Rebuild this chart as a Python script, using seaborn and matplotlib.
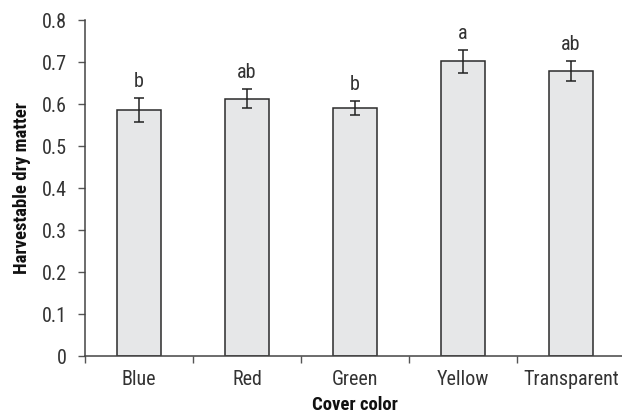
import matplotlib
matplotlib.use("Agg")
import matplotlib.pyplot as plt
import seaborn as sns
import pandas as pd

categories = ["Blue", "Red", "Green", "Yellow", "Transparent"]
means = [0.585, 0.613, 0.591, 0.702, 0.679]
errors = [0.029, 0.022, 0.017, 0.027, 0.024]
letters = ["b", "ab", "b", "a", "ab"]
yticks = [0, 0.1, 0.2, 0.3, 0.4, 0.5, 0.6, 0.7, 0.8]
ytick_labels = ["0", "0.1", "0.2", "0.3", "0.4", "0.5", "0.6", "0.7", "0.8"]

sns.set_theme(style="white")
plt.rcParams["font.family"] = ["Roboto Condensed", "Liberation Sans Narrow",
                               "IBM Plex Sans Condensed", "DejaVu Sans"]

text_color = "#333333"
df = pd.DataFrame({"cover": categories, "dm": means})

fig = plt.figure(figsize=(6.22, 4.15), dpi=100)
ax = fig.add_axes([85 / 622, 59 / 415, 540 / 622, 336 / 415])

sns.barplot(data=df, x="cover", y="dm", ax=ax, color="#e6e7e8",
            saturation=1, width=0.41, edgecolor="#2b2b2b", linewidth=1.1)
ax.errorbar(range(len(categories)), means, yerr=errors, fmt="none",
            ecolor="#222222", elinewidth=1.1, capsize=3.5, capthick=1.1)

for i, (m, e, lab) in enumerate(zip(means, errors, letters)):
    ax.text(i, m + e + 0.017, lab, ha="center", va="bottom",
            fontsize=14.5, color=text_color)

ax.set_xlim(-0.5, len(categories) - 0.5)
ax.set_ylim(0, 0.8)
ax.set_yticks(yticks)
ax.set_yticklabels(ytick_labels)

# category boundaries get the tick marks; labels sit between them
ax.set_xticks([i - 0.5 for i in range(len(categories) + 1)], minor=True)
ax.tick_params(axis="x", which="major", length=0, pad=10, labelsize=14.5,
               labelcolor=text_color)
ax.tick_params(axis="x", which="minor", length=5, width=1, color="#555555",
               direction="out", bottom=True)
ax.tick_params(axis="y", which="major", length=5, width=1, color="#555555",
               direction="out", left=True, labelsize=14.5, labelcolor=text_color,
               pad=8)

for side in ["top", "right"]:
    ax.spines[side].set_visible(False)
for side in ["left", "bottom"]:
    ax.spines[side].set_color("#444444")
    ax.spines[side].set_linewidth(1.1)

ax.set_xlabel("Cover color", fontsize=13.5, fontweight="bold", color="#111111",
              labelpad=5)
ax.set_ylabel("Harvestable dry matter", fontsize=13.5, fontweight="bold",
              color="#111111", labelpad=8)

fig.savefig("out.png", dpi=100)
